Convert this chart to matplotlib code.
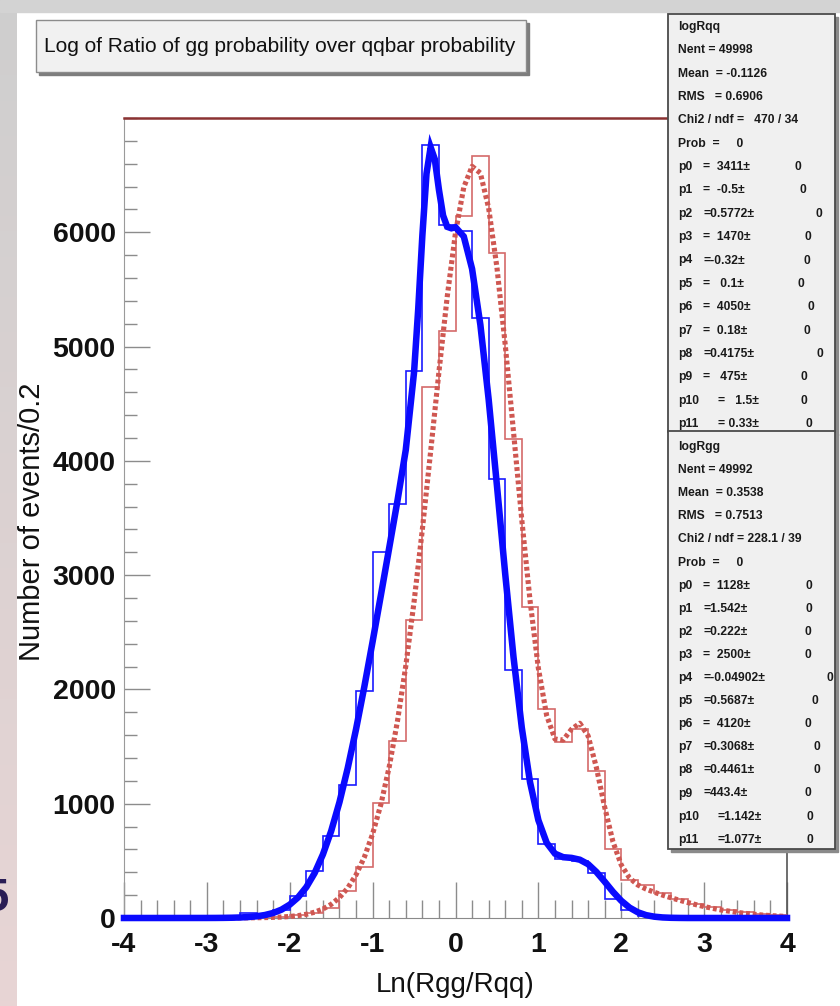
import numpy as np
import matplotlib
matplotlib.use("Agg")
import matplotlib.pyplot as plt
from matplotlib.patches import Rectangle
from matplotlib.ticker import MultipleLocator, FixedLocator

plt.rcParams['font.family'] = ['Liberation Sans', 'DejaVu Sans']
plt.rcParams['axes.unicode_minus'] = False

# ---------------- data ----------------
bin_edges = np.linspace(-4.0, 4.0, 41)          # 40 bins of width 0.2

rqq_counts = [0, 0, 0, 0, 0, 3, 8, 40, 30, 70,
              195, 410, 720, 1160, 1990, 3200, 3620, 4790, 6760, 6060,
              6010, 5250, 3840, 2170, 1220, 650, 520, 500, 390, 170,
              70, 20, 8, 3, 0, 0, 0, 0, 0, 0]

rgg_counts = [0, 0, 0, 0, 0, 0, 0, 2, 5, 10,
              25, 45, 90, 240, 450, 1010, 1550, 2610, 4650, 5140,
              6140, 6670, 5820, 4190, 2720, 1830, 1540, 1650, 1290, 600,
              330, 290, 215, 165, 125, 95, 70, 50, 35, 25]

rqq_fit_x = [-4.0, -3.5, -3.0, -2.9, -2.8, -2.7, -2.6, -2.5, -2.4, -2.3, -2.2, -2.1,
             -2.0, -1.9, -1.8, -1.7, -1.6, -1.5, -1.4, -1.3, -1.2, -1.1, -1.0,
             -0.9, -0.8, -0.7, -0.6, -0.5, -0.45, -0.4, -0.35, -0.3, -0.25, -0.2,
             -0.15, -0.1, -0.05, 0.0, 0.1, 0.2, 0.3, 0.4, 0.5, 0.6, 0.7, 0.8, 0.9,
             1.0, 1.1, 1.2, 1.3, 1.4, 1.5, 1.6, 1.7, 1.8, 1.9, 2.0, 2.1, 2.2, 2.3,
             2.4, 2.5, 2.6, 2.7, 2.8, 3.0, 3.5, 4.0]
rqq_fit_y = [0, 0, 0.3, 0.6, 1.2, 2.4, 4.6, 8.5, 15, 26, 44, 73,
             117, 180, 270, 393, 556, 761, 1014, 1313, 1652, 2024, 2419,
             2826, 3238, 3652, 4096, 4777, 5326, 5970, 6512, 6744, 6640, 6373,
             6147, 6048, 6035, 6044, 5963, 5680, 5191, 4538, 3784, 3009, 2283, 1665, 1186,
             856, 658, 563, 532, 526, 510, 471, 403, 318, 229, 151, 91, 50, 25,
             11.5, 4.8, 1.8, 0.6, 0, 0, 0, 0]

rgg_fit_x = [-4.0, -3.5, -3.0, -2.9, -2.8, -2.7, -2.6, -2.5, -2.4, -2.3, -2.2, -2.1,
             -2.0, -1.9, -1.8, -1.7, -1.6, -1.5, -1.4, -1.3, -1.2, -1.1, -1.0,
             -0.9, -0.8, -0.7, -0.6, -0.5, -0.4, -0.3, -0.2, -0.1, 0.0, 0.1, 0.2,
             0.3, 0.4, 0.5, 0.6, 0.7, 0.8, 0.9, 1.0, 1.1, 1.2, 1.3, 1.4, 1.5, 1.6,
             1.7, 1.8, 1.9, 2.0, 2.1, 2.2, 2.3, 2.4, 2.5, 2.6, 2.7, 2.8, 2.9, 3.0,
             3.1, 3.2, 3.3, 3.4, 3.5, 3.6, 3.7, 3.8, 3.9, 4.0]
rgg_fit_y = [0, 0.1, 0.3, 0.4, 0.6, 0.9, 1.2, 1.7, 2.5, 3.7, 5.6, 8.5,
             13.3, 20.7, 32.5, 50.8, 78.3, 119.5, 178.8, 262.7, 378, 532, 736,
             995, 1322, 1724, 2205, 2767, 3400, 4082, 4778, 5436, 5996, 6394, 6577,
             6518, 6212, 5692, 5016, 4253, 3483, 2774, 2185, 1772, 1566, 1557, 1652, 1704, 1594,
             1317, 970, 667, 464, 350, 289, 253, 225, 200, 177, 156, 136, 117, 100,
             85, 71, 60, 49, 40, 33, 26, 21, 17, 13]

x_major_ticks = [-4, -3, -2, -1, 0, 1, 2, 3, 4]
y_major_ticks = [0, 1000, 2000, 3000, 4000, 5000, 6000]

title_text = "Log of Ratio of gg probability over qqbar probability"
x_label = "Ln(Rgg/Rqq)"
y_label = "Number of events/0.2"

stats_qq_head = ["logRqq", "Nent = 49998", "Mean  = -0.1126", "RMS   = 0.6906",
                 "Chi2 / ndf =   470 / 34", "Prob  =     0"]
stats_qq_names = ["p0", "p1", "p2", "p3", "p4", "p5", "p6", "p7", "p8", "p9", "p10", "p11"]
stats_qq_vals = ["=  3411\u00b1", "=  -0.5\u00b1", "=0.5772\u00b1", "=  1470\u00b1", "=-0.32\u00b1",
                 "=   0.1\u00b1", "=  4050\u00b1", "=  0.18\u00b1", "=0.4175\u00b1", "=   475\u00b1",
                 "=   1.5\u00b1", "= 0.33\u00b1"]
stats_qq_errs = ["0"] * 12

stats_gg_head = ["logRgg", "Nent = 49992", "Mean  = 0.3538", "RMS   = 0.7513",
                 "Chi2 / ndf = 228.1 / 39", "Prob  =     0"]
stats_gg_names = ["p0", "p1", "p2", "p3", "p4", "p5", "p6", "p7", "p8", "p9", "p10", "p11"]
stats_gg_vals = ["=  1128\u00b1", "=1.542\u00b1", "=0.222\u00b1", "=  2500\u00b1", "=-0.04902\u00b1",
                 "=0.5687\u00b1", "=  4120\u00b1", "=0.3068\u00b1", "=0.4461\u00b1", "=443.4\u00b1",
                 "=1.142\u00b1", "=1.077\u00b1"]
stats_gg_errs = ["0"] * 12

# ---------------- layout (pixels) ----------------
W, H = 840, 1006
fig = plt.figure(figsize=(W / 100, H / 100), dpi=100)
fig.patch.set_facecolor('white')

AX_L, AX_R, AX_T, AX_B = 124, 787, 118, 918
ax = fig.add_axes([AX_L / W, 1 - AX_B / H, (AX_R - AX_L) / W, (AX_B - AX_T) / H])
ax.set_facecolor('white')

# histograms
ax.stairs(rgg_counts, bin_edges, color='#d46a6a', lw=1.2, zorder=2)
ax.stairs(rqq_counts, bin_edges, color='#1a1aff', lw=1.2, zorder=3)
# fits
ax.plot(rgg_fit_x, rgg_fit_y, color='#cf5751', lw=3.7, linestyle=(0, (0.75, 0.55)),
        dash_capstyle='butt', zorder=4, clip_on=False)
ax.plot(rqq_fit_x, rqq_fit_y, color='#0a0aff', lw=4.7, solid_joinstyle='miter',
        zorder=5, clip_on=False)

ax.set_xlim(-4, 4)
ax.set_ylim(0, 7000)
ax.xaxis.set_major_locator(FixedLocator(x_major_ticks))
ax.xaxis.set_minor_locator(MultipleLocator(0.2))
ax.yaxis.set_major_locator(FixedLocator(y_major_ticks))
ax.yaxis.set_minor_locator(MultipleLocator(200))

tc = '#8c8c8c'
ax.tick_params(axis='x', which='major', direction='in', length=26, width=1.0, color=tc,
               labelsize=20.5, pad=10, top=False, labelcolor='#111111')
ax.tick_params(axis='x', which='minor', direction='in', length=13, width=1.0, color=tc, top=False)
ax.tick_params(axis='y', which='major', direction='in', length=19, width=1.0, color=tc,
               labelsize=20.5, pad=6, right=False, labelcolor='#111111')
ax.tick_params(axis='y', which='minor', direction='in', length=9, width=1.0, color=tc, right=False)
for lab in ax.get_xticklabels() + ax.get_yticklabels():
    lab.set_fontweight('bold')

ax.set_xlabel(x_label, fontsize=20, color='#111111')
ax.xaxis.set_label_coords(0.5, -0.068)
ax.set_ylabel(y_label, fontsize=21, color='#111111')
ax.yaxis.set_label_coords(-0.118, 0.495)

ax.spines['top'].set_color('#8b3232')
ax.spines['top'].set_linewidth(1.8)
ax.spines['left'].set_color('#9a9a9a')
ax.spines['bottom'].set_color('#8a8a8a')
ax.spines['right'].set_color('#555555')
ax.spines['right'].set_linewidth(1.2)

# ---------------- overlay in pixel coordinates ----------------
ov = fig.add_axes([0, 0, 1, 1], zorder=10)
ov.patch.set_alpha(0)
ov.axis('off')

grad = np.linspace(0, 1, 200)[:, None, None]
top_c = np.array([0.81, 0.81, 0.81])
bot_c = np.array([0.91, 0.835, 0.835])
img = top_c * (1 - grad) + bot_c * grad
ov.imshow(img, extent=[0, 17, H, 0], aspect='auto', zorder=0)
ov.add_patch(Rectangle((0, 0), W, 12, color='#d3d3d3', zorder=0))

ov.text(9, 899, "5", fontsize=34, ha='right', va='center', color='#2a1d55', fontweight='bold')

# title box
ov.add_patch(Rectangle((39, 23), 490, 52, color='#7d7d7d', zorder=1))
ov.add_patch(Rectangle((36, 20), 490, 52, facecolor='#f1f1f1', edgecolor='#8c8c8c', lw=1, zorder=2))
ov.text(44, 46, title_text, fontsize=15, ha='left', va='center', color='#111111', zorder=3)

# stat boxes
BX0, BX1 = 668, 835
def stat_box(y0, y1, head, names, vals, errs, err_x, first_y, step):
    ov.add_patch(Rectangle((BX0 + 3, y0 + 3), BX1 - BX0, y1 - y0, color='#8a8a8a', zorder=1))
    ov.add_patch(Rectangle((BX0, y0), BX1 - BX0, y1 - y0, facecolor='#f0f0f0', edgecolor='#4a4a4a',
                           lw=1.3, zorder=2))
    fs = 8.7
    for i, s in enumerate(head):
        ov.text(678, first_y + step * i, s, fontsize=fs, fontweight='bold', ha='left',
                va='center', color='#1a1a1a', zorder=3)
    for j, (n, v, e, ex) in enumerate(zip(names, vals, errs, err_x)):
        yy = first_y + step * (len(head) + j)
        ov.text(678, yy, n, fontsize=fs, fontweight='bold', ha='left', va='center',
                color='#1a1a1a', zorder=3)
        vx = 718 if n in ("p10", "p11") else 703
        ov.text(vx, yy, v, fontsize=fs, fontweight='bold', ha='left', va='center',
                color='#1a1a1a', zorder=3)
        ov.text(ex, yy, e, fontsize=fs, fontweight='bold', ha='center', va='center',
                color='#1a1a1a', zorder=3)

stat_box(14, 432, stats_qq_head, stats_qq_names, stats_qq_vals, stats_qq_errs,
         [798, 803, 819, 808, 807, 801, 811, 807, 820, 804, 804, 809], 27, 23.35)
stat_box(431, 849, stats_gg_head, stats_gg_names, stats_gg_vals, stats_gg_errs,
         [809, 809, 808, 808, 830, 815, 808, 817, 817, 808, 810, 810], 447, 23.1)

ov.set_xlim(0, W)
ov.set_ylim(H, 0)

fig.savefig("out.png", dpi=100, facecolor=fig.get_facecolor())
